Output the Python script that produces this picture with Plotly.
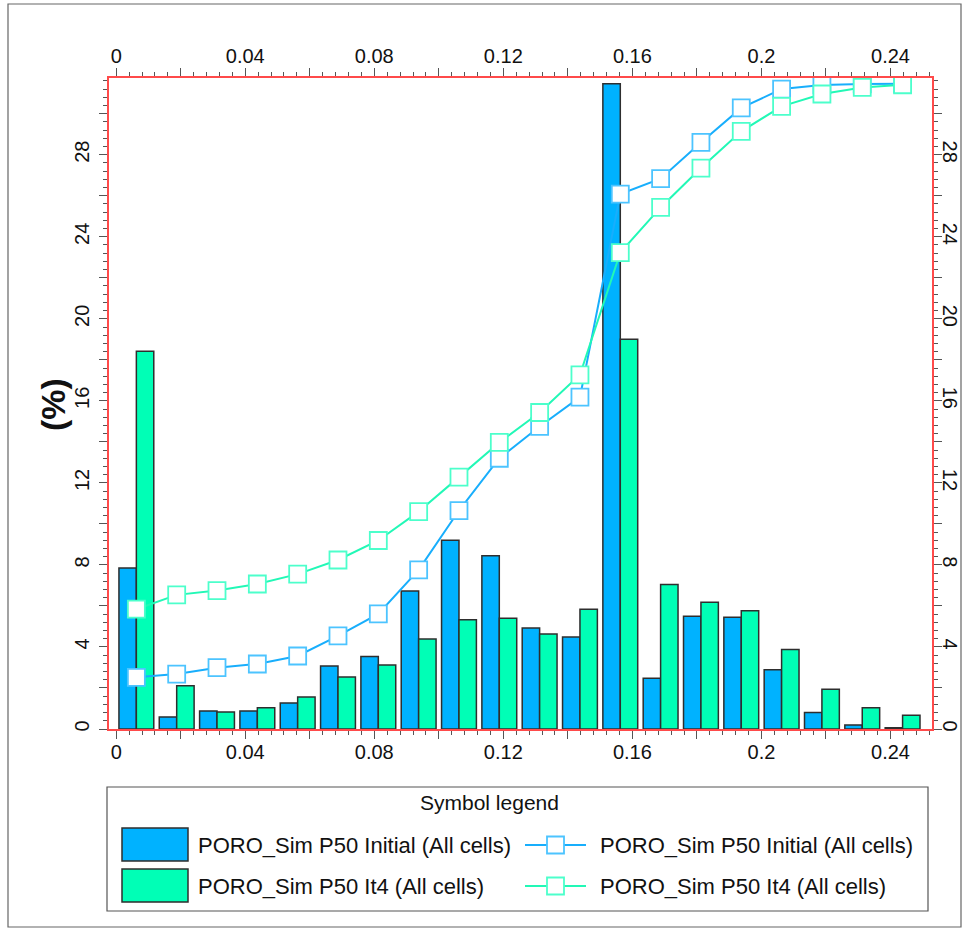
import plotly.graph_objects as go

# Porosity bin centres (bin width 0.0125)
bins = [0.00625, 0.01875, 0.03125, 0.04375, 0.05625, 0.06875, 0.08125, 0.09375,
        0.10625, 0.11875, 0.13125, 0.14375, 0.15625, 0.16875, 0.18125, 0.19375,
        0.20625, 0.21875, 0.23125, 0.24375]

# Histogram frequencies (%)
initial_pct = [7.85, 0.59, 0.88, 0.88, 1.27, 3.07, 3.53, 6.73, 9.2, 8.45,
               4.93, 4.49, 31.46, 2.47, 5.50, 5.45, 2.89, 0.81, 0.20, 0.06]
it4_pct = [18.42, 2.11, 0.83, 1.04, 1.56, 2.54, 3.12, 4.39, 5.33, 5.40,
           4.63, 5.84, 19.0, 7.04, 6.18, 5.77, 3.87, 1.94, 1.04, 0.67]

# Cumulative curves (scaled to the histogram axis)
initial_cum = [2.52, 2.68, 2.99, 3.17, 3.56, 4.54, 5.61, 7.76, 10.65, 13.2,
               14.75, 16.18, 26.08, 26.83, 28.6, 30.28, 31.2, 31.4, 31.45, 31.46]
it4_cum = [5.84, 6.54, 6.75, 7.07, 7.55, 8.24, 9.19, 10.6, 12.28, 13.97,
           15.43, 17.27, 23.23, 25.43, 27.35, 29.14, 30.36, 30.96, 31.28, 31.41]

x_ticks = [0, 0.02, 0.04, 0.06, 0.08, 0.10, 0.12, 0.14, 0.16, 0.18, 0.20, 0.22, 0.24]
x_labels = ["0", "", "0.04", "", "0.08", "", "0.12", "", "0.16", "", "0.2", "", "0.24"]
y_ticks = [0, 2, 4, 6, 8, 10, 12, 14, 16, 18, 20, 22, 24, 26, 28, 30]
y_labels = ["0", "", "4", "", "8", "", "12", "", "16", "", "20", "", "24", "", "28", ""]

names = ["PORO_Sim P50 Initial (All cells)", "PORO_Sim P50 It4 (All cells)"]

BAR_BLUE = "#00b2ff"
BAR_GREEN = "#00ffb6"
LINE_BLUE = "#18aefc"
LINE_GREEN = "#22f8b6"
MK_BLUE = "#4cc4ff"
MK_GREEN = "#4cffcb"
AXIS_RED = "#ff4a4a"
FONT = "Liberation Sans, Arial, sans-serif"

XR = [-0.00223, 0.25287]
YR = [0, 31.74]

W, H = 968, 931
L, R, T, B = 109, 36, 78, 202


def px(x):
    return (x - L) / (W - L - R)


def py(y):
    return (H - B - y) / (H - B - T)


fig = go.Figure()

fig.add_trace(go.Bar(x=bins, y=initial_pct, name=names[0], marker=dict(
    color=BAR_BLUE, line=dict(color="#2e2e2e", width=1.5)), showlegend=False))
fig.add_trace(go.Bar(x=bins, y=it4_pct, name=names[1], marker=dict(
    color=BAR_GREEN, line=dict(color="#2e2e2e", width=1.5)), showlegend=False))

fig.add_trace(go.Scatter(x=bins, y=initial_cum, xaxis="x2", yaxis="y2", mode="lines+markers",
                         line=dict(color=LINE_BLUE, width=2),
                         marker=dict(symbol="square", size=17, color="white",
                                     line=dict(color=MK_BLUE, width=1.8)),
                         name=names[0], showlegend=False))
fig.add_trace(go.Scatter(x=bins, y=it4_cum, xaxis="x2", yaxis="y2", mode="lines+markers",
                         line=dict(color=LINE_GREEN, width=2),
                         marker=dict(symbol="square", size=17, color="white",
                                     line=dict(color=MK_GREEN, width=1.8)),
                         name=names[1], showlegend=False))

tickfont = dict(family=FONT, size=20, color="#111")
common_x = dict(range=XR, tickvals=x_ticks, ticktext=x_labels, ticks="outside",
                ticklen=8, tickwidth=1.3, tickcolor="#555",
                minor=dict(dtick=0.004, tick0=0, ticks="outside", ticklen=4,
                           tickwidth=1, tickcolor="#555"),
                showline=True, linecolor=AXIS_RED, linewidth=1.5,
                showgrid=False, zeroline=False, tickfont=tickfont, automargin=False)
common_y = dict(range=YR, tickvals=y_ticks, ticktext=y_labels, ticks="outside",
                ticklen=8, tickwidth=1.3, tickcolor="#555",
                minor=dict(dtick=0.4, tick0=0, ticks="outside", ticklen=4,
                           tickwidth=1, tickcolor="#555"),
                showline=True, linecolor=AXIS_RED, linewidth=1.5,
                showgrid=False, zeroline=False, tickfont=tickfont, automargin=False)

fig.update_layout(
    width=W, height=H, autosize=False,
    margin=dict(l=L, r=R, t=T, b=B, autoexpand=False),
    paper_bgcolor="white", plot_bgcolor="white",
    barmode="group", bargap=0.136, bargroupgap=0,
    xaxis=dict(**common_x, side="bottom", anchor="y", ticklabelstandoff=-4),
    xaxis2=dict(**common_x, side="top", anchor="y", overlaying="x", ticklabelstandoff=-3),
    yaxis=dict(**common_y, side="left", anchor="x", tickangle=-90, ticklabelstandoff=2),
    yaxis2=dict(**common_y, side="right", anchor="x", overlaying="y", tickangle=90,
                ticklabelstandoff=-7),
    showlegend=False,
)

shapes = []
annotations = []

# Outer frame
shapes.append(dict(type="rect", xref="paper", yref="paper",
                   x0=px(8), x1=px(961), y0=py(4), y1=py(927),
                   line=dict(color="#666", width=1.2), fillcolor="rgba(0,0,0,0)", layer="below"))

# Y axis title
annotations.append(dict(text="<b>(%)</b>", xref="paper", yref="paper", x=px(53), y=py(405),
                        showarrow=False, textangle=-90, font=dict(family=FONT, size=34, color="#111"),
                        xanchor="center", yanchor="middle"))

# Legend box
shapes.append(dict(type="rect", xref="paper", yref="paper",
                   x0=px(107), x1=px(928), y0=py(787), y1=py(911),
                   line=dict(color="#555", width=1.2), fillcolor="white"))
annotations.append(dict(text="Symbol legend", xref="paper", yref="paper", x=px(489), y=py(802),
                        showarrow=False, font=dict(family=FONT, size=21, color="#111"),
                        xanchor="center", yanchor="middle"))

legend_rows = [845, 886]
bar_cols = [BAR_BLUE, BAR_GREEN]
line_cols = [LINE_BLUE, LINE_GREEN]
mk_cols = [MK_BLUE, MK_GREEN]
for i, yc in enumerate(legend_rows):
    shapes.append(dict(type="rect", xref="paper", yref="paper",
                       x0=px(122), x1=px(188), y0=py(yc - 17), y1=py(yc + 16),
                       line=dict(color="#2e2e2e", width=1.5), fillcolor=bar_cols[i]))
    annotations.append(dict(text=names[i], xref="paper", yref="paper", x=px(196), y=py(yc),
                            showarrow=False, font=dict(family=FONT, size=22, color="#111"),
                            xanchor="left", yanchor="middle"))
    shapes.append(dict(type="line", xref="paper", yref="paper",
                       x0=px(525), x1=px(586), y0=py(yc), y1=py(yc),
                       line=dict(color=line_cols[i], width=2)))
    shapes.append(dict(type="rect", xref="paper", yref="paper",
                       x0=px(547), x1=px(564), y0=py(yc - 8.5), y1=py(yc + 8.5),
                       line=dict(color=mk_cols[i], width=1.8), fillcolor="white"))
    annotations.append(dict(text=names[i], xref="paper", yref="paper", x=px(598), y=py(yc),
                            showarrow=False, font=dict(family=FONT, size=22, color="#111"),
                            xanchor="left", yanchor="middle"))

fig.update_layout(shapes=shapes, annotations=annotations)

page_css = ("document.documentElement.style.overflow='hidden';"
            "document.body.style.overflow='hidden';"
            "document.body.style.margin='0';")

fig.write_html("out.html", config={"responsive": False}, post_script=page_css)
